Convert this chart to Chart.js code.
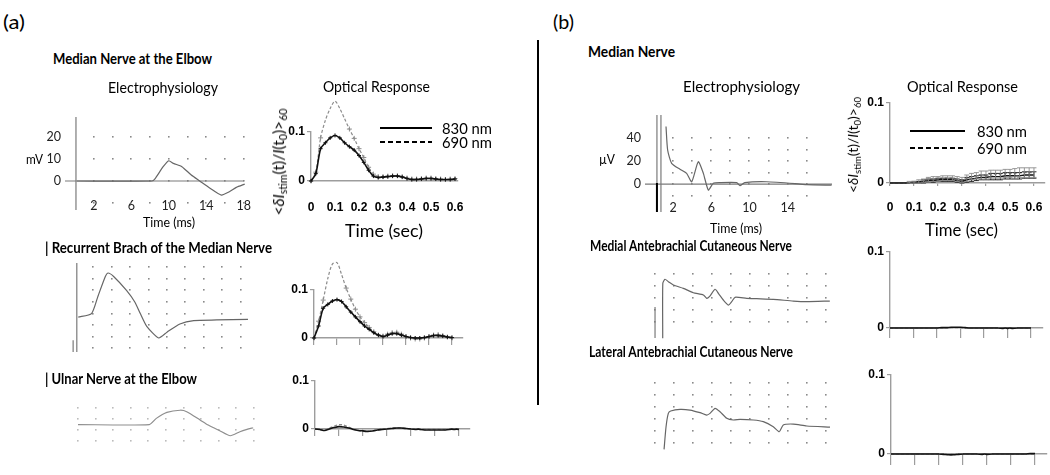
<!DOCTYPE html>
<html>
<head>
<meta charset="utf-8">
<title>Nerve responses</title>
<script src="https://cdn.jsdelivr.net/npm/chart.js@4.4.1/dist/chart.umd.min.js"></script>
<style>
  html, body { margin: 0; padding: 0; background: #fff; overflow: hidden; }
  #page { position: relative; width: 1050px; height: 475px; overflow: hidden; font-family: Lato, 'Open Sans', sans-serif; color: #000; }
  #page canvas { position: absolute; }
  .t { position: absolute; white-space: nowrap; line-height: 1.15; transform-origin: 0 50%; }
  .t sub { font-size: 68%; vertical-align: -0.3em; line-height: 0; }
  .leg { position: absolute; }
</style>
</head>
<body>
<div id="page"></div>
<script>
// ---- optical response data (time in s, dI/I) ----
const OPT_T = [0, 0.02, 0.04, 0.06, 0.08, 0.1, 0.12, 0.14, 0.16, 0.18, 0.2, 0.22, 0.24, 0.26, 0.28, 0.3,
  0.32, 0.34, 0.36, 0.38, 0.4, 0.42, 0.44, 0.46, 0.48, 0.5, 0.52, 0.54, 0.56, 0.58, 0.6];
const OPT_XTICKS = [0, 0.1, 0.2, 0.3, 0.4, 0.5, 0.6];
const OPT_YTICKS = [0, 0.1];

// median nerve at the elbow
const OR1_830 = [0, 0.015, 0.066, 0.078, 0.088, 0.093, 0.088, 0.078, 0.07, 0.063, 0.052, 0.038, 0.022, 0.01, 0.007, 0.008,
  0.009, 0.01, 0.01, 0.008, 0.005, 0.003, 0.003, 0.004, 0.005, 0.005, 0.004, 0.003, 0.003, 0.003, 0.004];
const OR1_690 = [0, 0.018, 0.088, 0.124, 0.148, 0.163, 0.148, 0.127, 0.106, 0.087, 0.066, 0.048, 0.028, 0.014, 0.009, 0.009,
  0.01, 0.011, 0.011, 0.009, 0.006, 0.004, 0.004, 0.005, 0.006, 0.006, 0.005, 0.004, 0.003, 0.004, 0.005];
// recurrent branch
const OR2_830 = [0, 0.025, 0.062, 0.07, 0.077, 0.08, 0.076, 0.065, 0.054, 0.044, 0.034, 0.025, 0.018, 0.011, 0.006, 0.003,
  0.006, 0.009, 0.009, 0.006, 0.003, 0.001, 0, 0, 0.001, 0.003, 0.005, 0.005, 0.004, 0.002, 0.001];
const OR2_690 = [0, 0.035, 0.079, 0.124, 0.154, 0.157, 0.132, 0.104, 0.081, 0.06, 0.044, 0.032, 0.022, 0.013, 0.006, 0.004,
  0.008, 0.011, 0.012, 0.008, 0.003, 0, -0.002, -0.002, 0, 0.003, 0.006, 0.007, 0.005, 0.002, 0];
// ulnar nerve
const OR3_830 = [0, -0.001, -0.003, 0, 0.003, 0.005, 0.004, 0.002, -0.001, -0.003, -0.004, -0.005, -0.004, -0.002, -0.001, 0,
  0.001, 0.002, 0.002, 0.001, 0, -0.001, -0.001, -0.002, -0.002, -0.002, -0.002, -0.002, -0.001, -0.001, -0.001];
const OR3_690 = [0, -0.001, -0.002, 0.002, 0.006, 0.009, 0.008, 0.004, 0, -0.003, -0.005, -0.005, -0.004, -0.002, 0, 0.001,
  0.002, 0.002, 0.002, 0.001, 0, -0.001, -0.001, -0.001, -0.001, -0.001, -0.001, -0.001, 0, 0, 0];
// (b) median nerve
const OR4_830 = [0, 0, 0, 0, 0, 0.001, 0.001, 0.002, 0.003, 0.003, 0.004, 0.004, 0.004, 0.004, 0.003, 0.002,
  0.004, 0.005, 0.006, 0.007, 0.007, 0.008, 0.008, 0.008, 0.009, 0.009, 0.009, 0.009, 0.01, 0.01, 0.01];
const OR4_690 = [0, 0, 0, 0, 0.001, 0.001, 0.002, 0.003, 0.004, 0.005, 0.005, 0.006, 0.006, 0.006, 0.005, 0.004,
  0.006, 0.008, 0.009, 0.01, 0.01, 0.011, 0.011, 0.011, 0.012, 0.012, 0.012, 0.013, 0.013, 0.013, 0.013];
const OR4_830_ERR = [0, 0, 0, 0, 0, 0.001, 0.001, 0.002, 0.002, 0.002, 0.002, 0.002, 0.002, 0.002, 0.002, 0.002,
  0.003, 0.003, 0.003, 0.003, 0.003, 0.004, 0.004, 0.004, 0.004, 0.004, 0.004, 0.004, 0.004, 0.004, 0.004];
const OR4_690_ERR = [0, 0, 0, 0, 0.001, 0.001, 0.002, 0.002, 0.003, 0.003, 0.003, 0.003, 0.003, 0.003, 0.003, 0.003,
  0.004, 0.004, 0.004, 0.005, 0.005, 0.005, 0.005, 0.005, 0.005, 0.005, 0.006, 0.006, 0.006, 0.006, 0.006];
// medial / lateral antebrachial cutaneous
const OR5_830 = [0, 0, 0, 0, 0, 0, 0, 0, 0, 0, 0, 0.0005, 0.0005, 0.001, 0.001, 0.001,
  0.0005, 0, 0, 0, 0, 0, 0, 0, -0.0005, -0.0005, -0.0005, 0, 0, 0, 0];
const OR5_690 = [0, 0, 0, 0, 0, 0, 0, 0, 0, 0, 0, 0, 0.0005, 0.0005, 0.0005, 0.0005,
  0, 0, 0, 0, 0, 0, 0, 0, 0, 0, 0, 0, 0, 0, 0];
const OR6_830 = [0, 0, 0, 0, 0, 0, 0, 0, 0, 0, 0, -0.0005, -0.001, -0.001, -0.0005, 0,
  0, 0, 0, -0.0005, -0.0005, 0, 0, 0, 0, 0, 0, 0, 0, 0.0005, 0.0005];
const OR6_690 = [0, 0, 0, 0, 0, 0, 0, 0, 0, 0, 0, 0, -0.0005, -0.0005, 0, 0,
  0, 0, 0, 0, 0, 0, 0, 0, 0, 0, 0, 0, 0, 0, 0];

// ---- electrophysiology traces (time in ms) ----
const EP1_T = [0.2, 8.2, 8.5, 9.4, 10, 10.5, 11.4, 12.4, 13.3, 14.4, 15.6, 16.5, 17.2, 18.1];
const EP1_V = [0, 0, 0.8, 6.5, 9.2, 8, 6.5, 2.7, 0, -3.3, -6.4, -4.8, -2.9, -1.4];
const EP1_XTICKS = [2, 6, 10, 14, 18];
const EP1_YTICKS = [0, 10, 20];
const EP1_XGRID = [2, 4, 6, 8, 10, 12, 14, 16, 18];
const EP1_YGRID = [-10, 0, 10, 20];

const EP2_T = [0.36, 1.8, 2.5, 3.3, 3.6, 4.2, 5.6, 6.5, 7.1, 7.8, 9.1, 10, 11.4, 12.9, 15.4, 18.8];
const EP2_V = [-1.3, -1.0, 0.5, 2.2, 2.5, 2.2, 1.0, 0.0, -1.0, -2.1, -3.1, -2.6, -1.9, -1.6, -1.55, -1.5];
const EP2_XGRID = [2, 4, 6, 8, 10, 12, 14, 16, 18];
const EP2_YGRID = [-4, -3, -2, -1, 0, 1, 2, 3];

const EP3_T = [0, 8.1, 8.9, 10.1, 11.6, 12.35, 13.9, 14.8, 16.1, 17.3, 18.4, 19.2, 19.9];
const EP3_V = [0.5, 0.5, 1.06, 1.6, 1.8, 1.67, 0.9, 0.45, -0.06, -0.52, -0.15, 0.06, 0.21];
const EP3_XGRID = [0, 2, 4, 6, 8, 10, 12, 14, 16, 18, 20];
const EP3_YGRID = [-1, 0, 1, 2];

const EP4_T = [1.26, 1.43, 1.85, 2.72, 3.42, 3.95, 4.64, 5.17, 5.69, 6.21, 6.9, 8.66, 9.0, 9.5, 11.8, 15.3, 16, 18.6];
const EP4_V = [50, 29.6, 18, 12.8, 9.3, 2, 19.4, 9.3, -5.2, 0.6, 1.2, 1.2, -1.4, 1.2, 2, 0, -0.6, -1];
const EP4_XTICKS = [2, 6, 10, 14];
const EP4_YTICKS = [0, 20, 40];
const EP4_XGRID = [2, 4, 6, 8, 10, 12, 14, 16];
const EP4_YGRID = [-10, 0, 10, 20, 30, 40];

const EP5_T = [0.81, 0.82, 1.05, 1.4, 1.93, 2.98, 4.03, 5.09, 5.44, 5.72, 6.32, 6.67, 7.19, 7.72, 8.07, 8.42,
  9.65, 10.7, 12.45, 14.56, 15.96, 18.4];
const EP5_V = [-3.43, 1.25, 1.59, 1.39, 1.11, 0.82, 0.45, 0.26, -0.03, 0.11, 0.74, 0.4, -0.17, -0.6, -0.31, 0.06,
  -0.03, -0.06, -0.11, -0.26, -0.31, -0.26];
const EP5_XGRID = [0, 2, 4, 6, 8, 10, 12, 14, 16, 18];
const EP5_YGRID = [-2, -1, 0, 1, 2];

const EP6_T = [0.95, 1.16, 1.4, 1.65, 2.63, 3.68, 4.74, 5.44, 5.79, 6.32, 6.84, 7.55, 8.24, 8.95, 10.35, 11.4,
  12.45, 13.08, 13.5, 14.56, 15.97, 18.42];
const EP6_V = [-2.53, -0.64, 0.47, 0.67, 0.81, 0.75, 0.53, 0.33, 0.47, 0.89, 0.61, 0.06, -0.08, -0.03, -0.08, -0.22,
  -0.64, -1.06, -0.5, -0.42, -0.58, -0.67];
const EP6_XGRID = [0, 2, 4, 6, 8, 10, 12, 14, 16, 18];
const EP6_YGRID = [-2, -1, 0, 1, 2, 3];

// ---- layout helpers ----
const page = document.getElementById('page');
const M = 50;            // spare room around each chart area
const AXIS = '#9d9d9d';
const BLACK = '#111';
const GREY = '#8c8c8c';

function addCanvas(a) {
  const c = document.createElement('canvas');
  const w = a.r - a.l + 2 * M, h = a.b - a.t + 2 * M;
  c.width = w; c.height = h;
  Object.assign(c.style, { left: (a.l - M) + 'px', top: (a.t - M) + 'px', width: w + 'px', height: h + 'px' });
  page.appendChild(c);
  return c;
}

// error bars read from dataset.errors
const errBars = {
  id: 'errBars',
  afterDatasetsDraw(chart) {
    const ctx = chart.ctx, y = chart.scales.y;
    chart.data.datasets.forEach((ds, i) => {
      if (!ds.errors) return;
      const pts = chart.getDatasetMeta(i).data;
      ctx.save();
      ctx.strokeStyle = ds.borderColor;
      ctx.lineWidth = 0.9;
      pts.forEach((p, j) => {
        const e = ds.errors[j];
        if (!e) return;
        const v = ds.data[j].y;
        const hi = y.getPixelForValue(v + e), lo = y.getPixelForValue(v - e);
        ctx.beginPath();
        ctx.moveTo(p.x, hi); ctx.lineTo(p.x, lo);
        ctx.moveTo(p.x - 2.5, hi); ctx.lineTo(p.x + 2.5, hi);
        ctx.moveTo(p.x - 2.5, lo); ctx.lineTo(p.x + 2.5, lo);
        ctx.stroke();
      });
      ctx.restore();
    });
  }
};

function opticalChart(a, o) {
  const c = addCanvas(a);
  const yW = 30, xH = o.labels ? 36 : 14;
  const font = { family: "'Liberation Sans', Arial, sans-serif", size: 12, weight: 'bold' };
  new Chart(c, {
    type: 'line',
    data: {
      datasets: o.series.map(s => ({
        data: OPT_T.map((t, i) => ({ x: t, y: s.v[i] })),
        errors: s.err,
        borderColor: s.color,
        borderWidth: s.width,
        borderDash: s.dash || [],
        pointStyle: 'cross',
        pointRadius: s.marks || 0,
        pointBorderColor: s.color,
        pointBorderWidth: 1,
        pointHoverRadius: 0,
        tension: 0.3,
        clip: false
      }))
    },
    options: {
      responsive: false, animation: false, devicePixelRatio: 1, events: [],
      layout: { padding: { left: M - yW, top: M, right: M, bottom: M - xH } },
      plugins: { legend: { display: false }, tooltip: { enabled: false } },
      scales: {
        x: {
          type: 'linear', min: 0, max: o.xMax,
          afterBuildTicks: s => { s.ticks = OPT_XTICKS.map(v => ({ value: v })); },
          afterFit: s => { s.height = xH; },
          border: { display: true, color: AXIS, width: 1.4 },
          grid: { display: true, drawOnChartArea: false, drawTicks: o.xTick > 0, tickLength: o.xTick, color: AXIS, lineWidth: 1.2 },
          ticks: { display: !!o.labels, padding: o.xPad || 0, color: '#000', font, maxRotation: 0, autoSkip: false,
            callback: v => v === 0 ? '0' : v.toFixed(1) }
        },
        y: {
          type: 'linear', min: 0, max: 0.1,
          afterBuildTicks: s => { s.ticks = OPT_YTICKS.map(v => ({ value: v })); },
          afterFit: s => { s.width = yW; },
          border: { display: true, color: AXIS, width: 1.4 },
          grid: { display: true, drawOnChartArea: false, tickLength: 4, color: AXIS, lineWidth: 1.2 },
          ticks: { padding: 2, color: '#000', font, callback: v => v === 0 ? '0' : String(v) }
        }
      }
    },
    plugins: [errBars]
  });
}

function epChart(a, o) {
  const c = addCanvas(a);
  const shown = !!o.xTicks;
  const yW = shown ? 30 : 0, xH = shown ? 25 : 0;
  const font = { family: 'Lato', size: 12.5 };
  // dotted grid + axis lines, placed through the chart scales
  const dots = {
    id: 'epGrid',
    beforeDatasetsDraw(chart) {
      const ctx = chart.ctx, x = chart.scales.x, y = chart.scales.y;
      ctx.save();
      ctx.fillStyle = o.dot || '#8a8a8a';
      o.xGrid.forEach(tx => o.yGrid.forEach(ty => {
        ctx.fillRect(Math.round(x.getPixelForValue(tx)) - 1, Math.round(y.getPixelForValue(ty)) - 1, 1.6, 1.6);
      }));
      (o.lines || []).forEach(([x1, y1, x2, y2, col, w]) => {
        ctx.strokeStyle = col || '#7a7a7a';
        ctx.lineWidth = w || 1.2;
        ctx.beginPath();
        ctx.moveTo(x.getPixelForValue(x1), y.getPixelForValue(y1));
        ctx.lineTo(x.getPixelForValue(x2), y.getPixelForValue(y2));
        ctx.stroke();
      });
      ctx.restore();
    }
  };
  const xScale = {
    type: 'linear', display: shown, min: o.x[0], max: o.x[1],
    afterFit: s => { s.height = xH; },
    grid: { display: false, drawTicks: false }, border: { display: false },
    ticks: { padding: o.xPad || 2, color: '#222', font, maxRotation: 0, autoSkip: false }
  };
  const yScale = {
    type: 'linear', display: shown, min: o.y[0], max: o.y[1],
    afterFit: s => { s.width = yW; },
    grid: { display: false, drawTicks: false }, border: { display: false },
    ticks: { padding: 4, color: '#222', font }
  };
  if (shown) {
    xScale.afterBuildTicks = s => { s.ticks = o.xTicks.map(v => ({ value: v })); };
    yScale.afterBuildTicks = s => { s.ticks = o.yTicks.map(v => ({ value: v })); };
  }
  new Chart(c, {
    type: 'line',
    data: {
      datasets: [{
        data: o.t.map((t, i) => ({ x: t, y: o.v[i] })),
        borderColor: o.color || '#666', borderWidth: 1.2,
        pointRadius: 0, pointHoverRadius: 0, tension: 0.2, clip: false
      }]
    },
    options: {
      responsive: false, animation: false, devicePixelRatio: 1, events: [],
      layout: { padding: { left: M - yW, top: M, right: M, bottom: M - xH } },
      plugins: { legend: { display: false }, tooltip: { enabled: false } },
      scales: { x: xScale, y: yScale }
    },
    plugins: [dots]
  });
}

// text at a given size, squeezed or stretched sideways to span x0..x1
function addText(html, x0, x1, yc, bold, size) {
  const d = document.createElement('div');
  d.className = 't';
  d.innerHTML = html;
  d.style.fontWeight = bold ? '700' : '400';
  d.style.fontSize = size + 'px';
  d.style.left = x0 + 'px';
  page.appendChild(d);
  const r = d.getBoundingClientRect();
  d.style.top = (yc - r.height / 2) + 'px';
  d.style.transform = 'scaleX(' + ((x1 - x0) / r.width) + ')';
}

function addRotated(html, xc, y0, y1, size) {
  const d = document.createElement('div');
  d.className = 't';
  d.innerHTML = html;
  d.style.fontSize = size + 'px';
  d.style.transformOrigin = '50% 50%';
  page.appendChild(d);
  const w = d.getBoundingClientRect().width;
  d.style.fontSize = (size * (y1 - y0) / w) + 'px';
  d.style.left = xc + 'px';
  d.style.top = ((y0 + y1) / 2) + 'px';
  d.style.transform = 'translate(-50%,-50%) rotate(-90deg)';
}

function addLegendLine(x, y, w, dashed) {
  const d = document.createElement('div');
  d.className = 'leg';
  Object.assign(d.style, { left: x + 'px', top: (y - 1) + 'px', width: w + 'px', height: dashed ? '1.5px' : '2px' });
  d.style.background = dashed ? 'repeating-linear-gradient(90deg,#000 0 5px,transparent 5px 8px)' : '#000';
  page.appendChild(d);
}

// ---- panel (a) ----
epChart({ l: 65, t: 117, r: 248, b: 196 }, {
  t: EP1_T, v: EP1_V, x: [-1.07, 18.45], y: [-6.82, 29.09],
  xTicks: EP1_XTICKS, yTicks: EP1_YTICKS, xGrid: EP1_XGRID, yGrid: EP1_YGRID, xPad: 2,
  lines: [[0.1, -13.2, 0.1, 29.09], [-1.07, 0, 18, 0]]
});
epChart({ l: 70, t: 263, r: 250, b: 352 }, {
  t: EP2_T, v: EP2_V, x: [-0.54, 19.02], y: [-4.31, 3.36],
  xGrid: EP2_XGRID, yGrid: EP2_YGRID,
  lines: [[0.2, -4.31, 0.2, 3.36], [-0.2, -4.31, -0.2, -3.3]]
});
epChart({ l: 75, t: 400, r: 258, b: 446 }, {
  t: EP3_T, v: EP3_V, x: [-0.34, 20.45], y: [-1.45, 2.73],
  xGrid: EP3_XGRID, yGrid: EP3_YGRID, color: '#8e8e8e', dot: '#bcbcbc'
});

opticalChart({ l: 311, t: 132, r: 458, b: 181 }, {
  xMax: 0.6125, labels: true, xTick: 0, xPad: 19,
  series: [
    { v: OR1_830, color: BLACK, width: 1.6, marks: 2 },
    { v: OR1_690, color: GREY, width: 1.2, dash: [3, 2], marks: 2.5 }
  ]
});
opticalChart({ l: 314, t: 290, r: 463, b: 338 }, {
  xMax: 0.648, labels: false, xTick: 7,
  series: [
    { v: OR2_830, color: BLACK, width: 1.6, marks: 2 },
    { v: OR2_690, color: GREY, width: 1.2, dash: [3, 2], marks: 2.5 }
  ]
});
opticalChart({ l: 315, t: 381, r: 470, b: 429 }, {
  xMax: 0.646, labels: false, xTick: 7,
  series: [
    { v: OR3_830, color: BLACK, width: 1.6 },
    { v: OR3_690, color: GREY, width: 1.4, dash: [3, 2] }
  ]
});

// ---- panel (b) ----
epChart({ l: 645, t: 115, r: 832, b: 196 }, {
  t: EP4_T, v: EP4_V, x: [-0.94, 18.64], y: [-10.4, 60],
  xTicks: EP4_XTICKS, yTicks: EP4_YTICKS, xGrid: EP4_XGRID, yGrid: EP4_YGRID, xPad: 4,
  lines: [[0.31, -24.3, 0.31, 60], [0.73, -24.3, 0.73, 60], [-0.94, 0, 18.64, 0], [0.31, 0.9, 0.31, -24.3, '#000', 2]]
});
epChart({ l: 648, t: 270, r: 832, b: 340 }, {
  t: EP5_T, v: EP5_V, x: [-0.74, 18.63], y: [-3.57, 2.38],
  xGrid: EP5_XGRID, yGrid: EP5_YGRID,
  lines: [[0, -0.77, 0, -3.4]]
});
epChart({ l: 648, t: 378, r: 832, b: 450 }, {
  t: EP6_T, v: EP6_V, x: [-0.74, 18.63], y: [-2.58, 3.42],
  xGrid: EP6_XGRID, yGrid: EP6_YGRID
});

opticalChart({ l: 890, t: 103, r: 1045, b: 183 }, {
  xMax: 0.646, labels: true, xTick: 3, xPad: 14,
  series: [
    { v: OR4_830, err: OR4_830_ERR, color: BLACK, width: 1.4 },
    { v: OR4_690, err: OR4_690_ERR, color: GREY, width: 1.2, dash: [3, 2] }
  ]
});
opticalChart({ l: 890, t: 252, r: 1043, b: 328 }, {
  xMax: 0.651, labels: false, xTick: 10,
  series: [
    { v: OR5_830, color: BLACK, width: 1.6 },
    { v: OR5_690, color: GREY, width: 1.2, dash: [3, 2] }
  ]
});
opticalChart({ l: 891, t: 375, r: 1047, b: 454 }, {
  xMax: 0.65, labels: false, xTick: 11,
  series: [
    { v: OR6_830, color: BLACK, width: 1.6 },
    { v: OR6_690, color: GREY, width: 1.2, dash: [3, 2] }
  ]
});

// ---- text ----
const YLABEL = '&lt;<i>&delta;I</i><sub>stim</sub>(t)/<i>I</i>(t<sub>0</sub>)&gt;<sub>60</sub>';
addText('(a)', 3, 25, 22, false, 19);
addText('(b)', 553, 574, 22, false, 19);
addText('Median Nerve at the Elbow', 53, 212, 59, true, 14.5);
addText('Electrophysiology', 108, 218, 88, false, 15.5);
addText('Optical Response', 323, 430, 87, false, 15.5);
addText('mV', 26, 43, 159, false, 14);
addText('Time (ms)', 143, 195, 222, false, 14);
addText('Time (sec)', 345, 423, 230, false, 18);
addText('830 nm', 442, 492, 128, false, 16);
addText('690 nm', 442, 492, 142, false, 16);
addLegendLine(380, 128, 52, false);
addLegendLine(380, 142, 52, true);
addRotated(YLABEL, 279, 108, 215, 14);
addText('| Recurrent Brach of the Median Nerve', 45, 272, 248, true, 14.5);
addText('| Ulnar Nerve at the Elbow', 45, 197, 379, true, 14.5);

addText('Median Nerve', 588, 675, 52, true, 14.5);
addText('Electrophysiology', 683, 800, 87, false, 15.5);
addText('Optical Response', 907, 1018, 87, false, 15.5);
addText('&micro;V', 599, 615, 159, false, 14);
addText('Time (ms)', 710, 762, 228, false, 14);
addText('Time (sec)', 925, 998, 229, false, 18);
addText('830 nm', 977, 1027, 131, false, 16);
addText('690 nm', 977, 1027, 148, false, 16);
addLegendLine(910, 131, 55, false);
addLegendLine(910, 148, 55, true);
addRotated(YLABEL, 853, 97, 193, 14);
addText('Medial Antebrachial Cutaneous Nerve', 590, 792, 246, true, 14.5);
addText('Lateral Antebrachial Cutaneous Nerve', 589, 793, 352, true, 14.5);

// divider between panels
const divider = document.createElement('div');
Object.assign(divider.style, { position: 'absolute', left: '537px', top: '40px', width: '2px', height: '365px', background: '#000' });
page.appendChild(divider);
</script>
</body>
</html>
